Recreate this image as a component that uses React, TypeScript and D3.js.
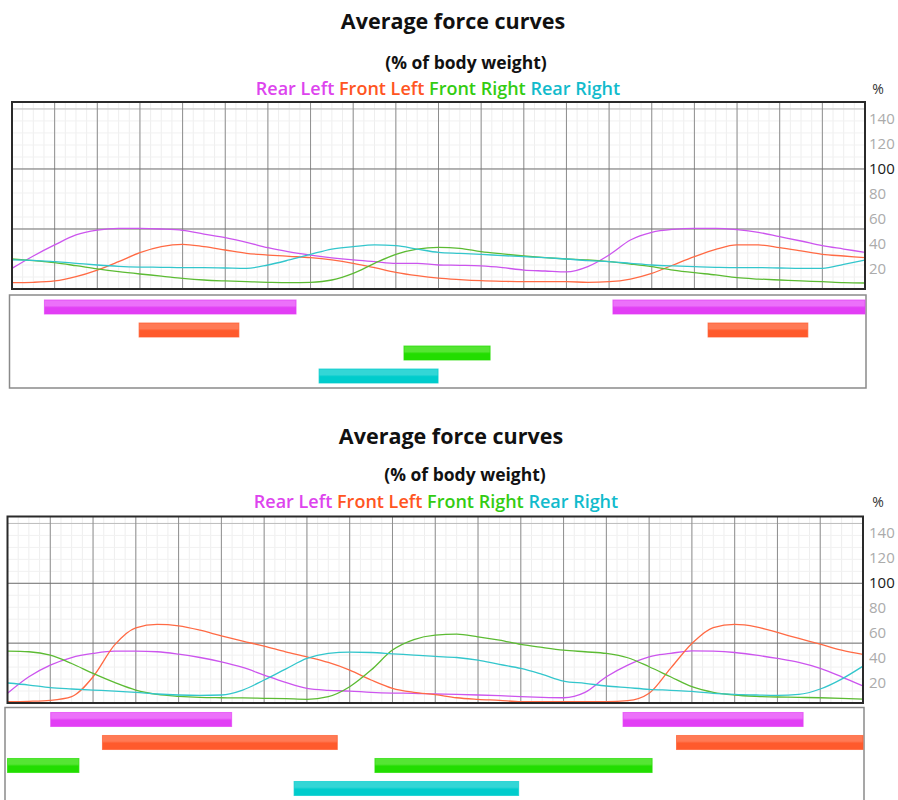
import * as d3 from 'd3';

// x: % of the gait sequence (two strides), y: % of body weight
const xSteps = d3.range(0, 201, 5);
const legs = ['Rear Left', 'Front Left', 'Front Right', 'Rear Right'];
const lineColors = ['#cc55ee', '#ff6a44', '#5cbb33', '#33c6cc'];
const textColors = ['#dd44ee', '#ff5522', '#33cc11', '#11bbcc'];
const barColors = ['#e23ef5', '#ff5a2c', '#22dd00', '#00cccc'];
const barLight = ['#ec70fa', '#ff7a55', '#55e533', '#33d6d6'];
const yTicks = [20, 40, 60, 80, 100, 120, 140];

// panel 1
const p1RearLeft = [17.2, 27.5, 36.7, 45, 49, 50.5, 50.5, 50, 48.9, 45.8, 42.8, 38.9, 34.4, 31, 28.3, 26, 24.2, 22.8, 21.4, 21.4, 20, 19.7, 19.2, 17.8, 15.8, 15, 14.2, 18.6, 28.3, 40.8, 47.2, 49.7, 50.5, 50.5, 49.4, 47.2, 43.6, 40, 36.1, 33.3, 30.5];
const p1FrontLeft = [5.3, 5.6, 6.7, 10.3, 15.8, 22.8, 30.3, 35.3, 37.2, 35.3, 32.5, 29.7, 28.3, 27.2, 26.1, 24.2, 21.4, 17.8, 13.9, 11.1, 9, 7.8, 6.9, 6.4, 6.1, 6.1, 6.1, 5.6, 6.1, 8.3, 13, 20, 26.9, 33, 36.7, 36.7, 34.4, 31.7, 28.9, 27.5, 26.1];
const p1FrontRight = [25, 23.6, 21.9, 19.4, 16.7, 14.4, 12.5, 10.8, 8.9, 7.5, 6.7, 6.1, 5.6, 5.3, 5.6, 7.5, 13, 21.4, 28.9, 33.3, 34.7, 33.9, 31.1, 29.2, 27.5, 26.1, 25, 24.2, 22.8, 20.8, 18.6, 15.8, 13.6, 11.7, 9.4, 8.3, 7.5, 6.7, 6.1, 5.3, 5];
const p1RearRight = [24.2, 23.9, 22.8, 21.4, 20, 18.9, 18.3, 18.1, 17.8, 17.8, 17.5, 17.2, 20, 24.2, 28.9, 33.3, 35.3, 36.7, 36.1, 33.3, 30.5, 29.7, 28.9, 27.8, 26.9, 26.1, 25, 23.6, 22.8, 21.4, 20, 19.2, 18.6, 18.1, 17.8, 17.8, 17.5, 17.2, 17.2, 20.6, 24.2];
const p1Stance = [
  [[7.6, 66.6], [140.9, 200]],
  [[29.8, 53.2], [163.2, 186.6]],
  [[91.9, 112.1]],
  [[72, 99.9]],
];

// panel 2
const p2RearLeft = [8.1, 21.9, 31.7, 38, 41.4, 43.3, 43.3, 42.8, 40.8, 38, 34.4, 29.7, 23.3, 17.2, 12.2, 10.6, 10, 8.9, 8.3, 8.1, 7.5, 7.2, 6.7, 6.1, 5.3, 4.7, 4.4, 8.9, 21.9, 31.7, 38.6, 41.4, 43.6, 43.3, 42.2, 40, 37.2, 33.9, 28.9, 21.9, 14.2];
const p2FrontLeft = [1.1, 1.4, 2.2, 5.3, 21.9, 48.3, 62.8, 65.6, 64.4, 60.8, 56.1, 51.7, 47.5, 42.8, 38.6, 33.9, 27.5, 19.2, 12.2, 8.9, 7, 4.4, 3.1, 2.2, 1.1, 1.1, 1.1, 1.1, 1.1, 1.9, 8.1, 28.9, 49.7, 63, 65.6, 63.6, 58.9, 53.9, 49.2, 44.2, 40.6];
const p2FrontRight = [43.3, 42.8, 40, 33, 24.7, 17.2, 10.8, 7.2, 5.6, 4.7, 4.4, 4.2, 3.9, 3.6, 3.1, 5.3, 13.6, 27.5, 44.2, 53, 56.7, 57.5, 55.3, 52.5, 48.9, 46.4, 44.2, 42.8, 41.4, 37.8, 30.3, 21.9, 13.6, 8.9, 6.7, 5.6, 5, 4.7, 4.4, 3.9, 3.3];
const p2RearRight = [16.7, 15, 12.8, 11.7, 10.8, 10, 8.9, 7.5, 6.7, 6.4, 6.7, 10.8, 19.2, 28.3, 37.2, 41.4, 42.5, 42.2, 41.1, 40, 38.9, 38, 35.8, 32.2, 28.9, 23.9, 18.3, 16.4, 14.2, 12.8, 11.4, 10.6, 9.7, 8.1, 7.2, 6.7, 6.4, 7.2, 11.7, 20, 30.8];
const p2Stance = [
  [[10.1, 52.4], [143.9, 186]],
  [[22.2, 77.1], [156.4, 200]],
  [[0, 16.7], [85.9, 150.7]],
  [[67, 119.5]],
];

const panels = [
  {
    id: 'a',
    series: [p1RearLeft, p1FrontLeft, p1FrontRight, p1RearRight],
    stance: p1Stance,
    box: { x0: 12, x1: 865, y0: 102, y1: 289 },
    bars: { x0: 9.5, x1: 866, y0: 295, y1: 388 },
    titleY: 20, titleX: 453, subY: 62, subX: 466, legendY: 88, legendX: 438,
  },
  {
    id: 'b',
    series: [p2RearLeft, p2FrontLeft, p2FrontRight, p2RearRight],
    stance: p2Stance,
    box: { x0: 7.5, x1: 863, y0: 516.5, y1: 703 },
    bars: { x0: 5, x1: 864, y0: 707.5, y1: 830 },
    titleY: 435, titleX: 451, subY: 474, subX: 465, legendY: 501, legendX: 436,
  },
];

const font = "'Open Sans', 'Noto Sans', sans-serif";

function Panel({ p }: { p: any }) {
  const { box, bars } = p;
  const x = d3.scaleLinear().domain([0, 200]).range([box.x0, box.x1]);
  const y = d3.scaleLinear().domain([0, 155.8]).range([box.y1, box.y0]);
  const yLabel = d3.scaleLinear().domain([20, 140]).range([y(20) + 3, y(140) - 3]);
  const row = d3.scaleBand<string>().domain(legs)
    .range([bars.y0 + 0.5, bars.y0 + 92.5]).paddingInner(0.39).paddingOuter(0.195);
  const line = d3.line<number>()
    .x((_, i) => x(xSteps[i]))
    .y((d) => y(d))
    .curve(d3.curveMonotoneX);

  const minorX = d3.range(0, 200.01, 2.5);
  const majorX = d3.range(10, 200, 10);
  const minorY = d3.range(10, 155, 10);
  const clipId = `clip-${p.id}`;
  const barClip = `bclip-${p.id}`;

  return (
    <g>
      <defs>
        <clipPath id={clipId}>
          <rect x={box.x0} y={box.y0} width={box.x1 - box.x0} height={box.y1 - box.y0} />
        </clipPath>
        <clipPath id={barClip}>
          <rect x={bars.x0} y={bars.y0} width={bars.x1 - bars.x0} height={bars.y1 - bars.y0} />
        </clipPath>
        {legs.map((l, i) => (
          <linearGradient key={l} id={`g-${p.id}-${i}`} x1="0" y1="0" x2="0" y2="1">
            <stop offset="0" stopColor={barLight[i]} />
            <stop offset="0.4" stopColor={barLight[i]} />
            <stop offset="0.55" stopColor={barColors[i]} />
            <stop offset="1" stopColor={barColors[i]} />
          </linearGradient>
        ))}
      </defs>

      <text x={p.titleX} y={p.titleY} textAnchor="middle" dominantBaseline="central"
        fontFamily={font} fontWeight="bold" fontSize={21.5} fill="#111">Average force curves</text>
      <text x={p.subX} y={p.subY} textAnchor="middle" dominantBaseline="central"
        fontFamily={font} fontWeight="bold" fontSize={17.5} fill="#111">(% of body weight)</text>
      <text x={p.legendX} y={p.legendY} textAnchor="middle" dominantBaseline="central"
        fontFamily={font} fontWeight={600} fontSize={18}>
        {legs.map((l, i) => (
          <tspan key={l} fill={textColors[i]}>{(i ? ' ' : '') + l}</tspan>
        ))}
      </text>
      <text x={878} y={p.legendY} textAnchor="middle" dominantBaseline="central"
        fontFamily={font} fontSize={14} fill="#333">%</text>

      <rect x={box.x0} y={box.y0} width={box.x1 - box.x0} height={box.y1 - box.y0} fill="#fff" />
      <g clipPath={`url(#${clipId})`}>
        {minorX.map((v) => (
          <line key={`mx${v}`} x1={x(v)} x2={x(v)} y1={box.y0} y2={box.y1} stroke="#eeeeee" />
        ))}
        {minorY.map((v) => (
          <line key={`my${v}`} x1={box.x0} x2={box.x1} y1={y(v)} y2={y(v)} stroke="#f1f1f1" />
        ))}
        <line x1={box.x0} x2={box.x1} y1={y(150)} y2={y(150)} stroke="#bdbdbd" />
        {majorX.map((v) => (
          <line key={`Mx${v}`} x1={x(v)} x2={x(v)} y1={box.y0} y2={box.y1} stroke="#8e8e8e" />
        ))}
        {[50, 100].map((v) => (
          <line key={`My${v}`} x1={box.x0} x2={box.x1} y1={y(v)} y2={y(v)} stroke="#6f6f6f" />
        ))}
        {p.series.map((s: number[], i: number) => (
          <path key={i} d={line(s) || ''} fill="none" stroke={lineColors[i]} strokeWidth={1.3} />
        ))}
      </g>
      <rect x={box.x0} y={box.y0} width={box.x1 - box.x0} height={box.y1 - box.y0}
        fill="none" stroke="#2a2a2a" strokeWidth={2} />

      {yTicks.map((t) => (
        <text key={t} x={869} y={yLabel(t)} dominantBaseline="central" fontFamily={font}
          fontSize={15} fill={t === 100 ? '#1a1a1a' : '#ababab'}>{t}</text>
      ))}

      <rect x={bars.x0} y={bars.y0} width={bars.x1 - bars.x0} height={bars.y1 - bars.y0}
        fill="#fff" stroke="#8a8a8a" strokeWidth={1.5} />
      <g clipPath={`url(#${barClip})`}>
        {p.stance.map((segs: number[][], i: number) =>
          segs.map(([a, b], j) => (
            <rect key={`${i}-${j}`} x={x(a)} y={row(legs[i])} width={x(b) - x(a)}
              height={row.bandwidth()} fill={`url(#g-${p.id}-${i})`}
              stroke={barColors[i]} strokeOpacity={0.7} strokeWidth={1} />
          ))
        )}
      </g>
    </g>
  );
}

export default function App() {
  return (
    <svg width={898} height={800} style={{ position: 'absolute', left: 0, top: 0, background: '#fff' }}>
      {panels.map((p) => (
        <Panel key={p.id} p={p} />
      ))}
    </svg>
  );
}
